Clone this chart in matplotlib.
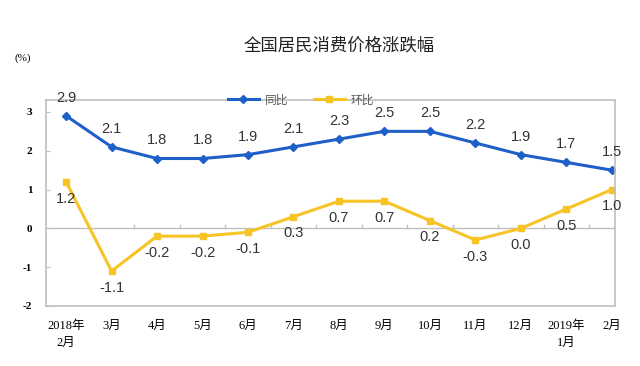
import matplotlib.pyplot as plt
import numpy as np

months = ['2018年\n2月', '3月', '4月', '5月', '6月', '7月', '8月', '9月',
          '10月', '11月', '12月', '2019年\n1月', '2月']
yoy = [2.9, 2.1, 1.8, 1.8, 1.9, 2.1, 2.3, 2.5, 2.5, 2.2, 1.9, 1.7, 1.5]   # 同比
mom = [1.2, -1.1, -0.2, -0.2, -0.1, 0.3, 0.7, 0.7, 0.2, -0.3, 0.0, 0.5, 1.0]  # 环比

blue = '#1f5fc8'
yellow = '#f7c425'
cjk = ['Noto Sans CJK SC', 'DejaVu Sans']
serif = ['Liberation Serif', 'Noto Sans CJK SC']

fig = plt.figure(figsize=(6.4, 3.66), dpi=100)
ax = fig.add_axes([0.072, 0.164, 0.889, 0.563])

x = np.arange(len(months))
ax.plot(x, yoy, color=blue, lw=2.2, marker='D', ms=4, label='同比')
ax.plot(x, mom, color=yellow, lw=2.2, marker='s', ms=4, label='环比')

# zero line with small category ticks
ax.axhline(0, color='#bfbfbf', lw=1, zorder=0)
for b in x[:-1] + 0.5:
    ax.plot([b, b], [0, 0.08], color='#bfbfbf', lw=1, zorder=0)

for xi, v in zip(x, yoy):
    ax.annotate('%.1f' % v, (xi, v), xytext=(0, 8), textcoords='offset points',
                ha='center', va='bottom', fontsize=10.5, color='#333333',
                family='Liberation Sans')
for xi, v in zip(x, mom):
    ax.annotate('%.1f' % v, (xi, v), xytext=(0, -7), textcoords='offset points',
                ha='center', va='top', fontsize=10.5, color='#333333',
                family='Liberation Sans')

ax.set_xlim(-0.44, 12.07)
ax.set_ylim(-2, 3.31)
ax.set_yticks([-2, -1, 0, 1, 2, 3])
ax.set_yticklabels(['-2', '-1', '0', '1', '2', '3'], family=serif, fontsize=8,
                   fontweight='bold')
ax.set_xticks(x)
ax.set_xticklabels(months, family=serif, fontsize=9, linespacing=1.55)
ax.tick_params(axis='x', length=0, pad=10)
ax.tick_params(axis='y', direction='in', length=3, color='#bfbfbf', pad=10)
for s in ax.spines.values():
    s.set_color('#bfbfbf')
    s.set_linewidth(1.2)

leg = ax.legend(loc='center', bbox_to_anchor=(0.448, 1.0), ncol=2, frameon=False,
                prop={'family': cjk, 'size': 8.5}, handlelength=2.6, columnspacing=2.2,
                handletextpad=0.5)
for t in leg.get_texts():
    t.set_color('#595959')

fig.text(0.53, 0.875, '全国居民消费价格涨跌幅', ha='center', va='center',
         fontsize=12.5, family=cjk, color='#222222')
fig.text(0.035, 0.84, '(%)', ha='center', va='center', fontsize=8, family=serif)

plt.savefig('out.png', dpi=100)
